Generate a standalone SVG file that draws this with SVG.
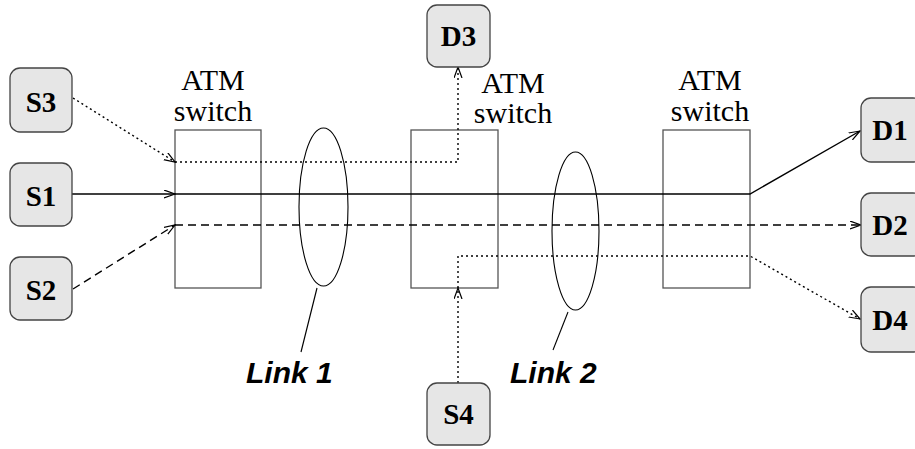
<svg xmlns="http://www.w3.org/2000/svg" width="915" height="449" viewBox="0 0 915 449">
<style>
.node rect{fill:#e6e6e6;stroke:#444;stroke-width:1.3}
.node text{font-family:"Liberation Serif",serif;font-weight:bold;font-size:29px;fill:#000;text-anchor:middle}
.sw rect{fill:none;stroke:#555;stroke-width:1.3}
.sw text{font-family:"Liberation Serif",serif;font-size:30px;fill:#000;text-anchor:middle}
.c{fill:none;stroke:#000;stroke-width:1.4}
.dot{stroke-dasharray:2 3}
.dash{stroke-dasharray:8 5}
.link{fill:none;stroke:#000;stroke-width:1.1}
.lt{font-family:"Liberation Sans",sans-serif;font-weight:bold;font-style:italic;font-size:30px;fill:#000}
</style>
<defs>
<marker id="ah" markerWidth="12" markerHeight="10" refX="11" refY="4.5" orient="auto" markerUnits="userSpaceOnUse">
<path d="M0,0.5 L11,4.5 L0,8.5" fill="none" stroke="#000" stroke-width="1.2" stroke-dasharray="none"/>
</marker>
</defs>
<g id="switch1" class="sw"><rect x="175" y="130" width="86" height="158"/><text x="213" y="90">ATM</text><text x="213" y="121">switch</text></g>
<g id="switch2" class="sw"><rect x="411" y="130" width="87" height="158"/><text x="513" y="93">ATM</text><text x="513" y="123">switch</text></g>
<g id="switch3" class="sw"><rect x="663" y="130" width="87" height="158"/><text x="710" y="90">ATM</text><text x="710" y="121">switch</text></g>
<g id="connectors">
<line class="c dot" x1="73" y1="98" x2="175" y2="162" marker-end="url(#ah)"/>
<path class="c dot" d="M175,162 H458 V67" marker-end="url(#ah)"/>
<line class="c" x1="72" y1="194" x2="175" y2="194" marker-end="url(#ah)"/>
<path class="c" d="M175,194 H750 L860,131" marker-end="url(#ah)"/>
<line class="c dash" x1="73" y1="289" x2="175" y2="225" marker-end="url(#ah)"/>
<line class="c dash" x1="175" y1="225" x2="861" y2="225" marker-end="url(#ah)"/>
<line class="c dot" x1="458" y1="383" x2="458" y2="288" marker-end="url(#ah)"/>
<path class="c dot" d="M458,288 V256 H750 L860,319" marker-end="url(#ah)"/>
</g>
<g id="link1">
<ellipse class="link" cx="323.5" cy="207" rx="24.5" ry="79"/>
<line class="link" x1="317" y1="288" x2="301" y2="352"/>
<text class="lt" x="246" y="383">Link 1</text>
</g>
<g id="link2">
<ellipse class="link" cx="575.5" cy="231" rx="23.5" ry="79"/>
<line class="link" x1="568" y1="312" x2="553" y2="350"/>
<text class="lt" x="510" y="383">Link 2</text>
</g>
<g id="S3" class="node"><rect x="10" y="68" width="62" height="64" rx="10"/><text x="41" y="112">S3</text></g>
<g id="S1" class="node"><rect x="10" y="163" width="62" height="63" rx="10"/><text x="41" y="206">S1</text></g>
<g id="S2" class="node"><rect x="10" y="257" width="62" height="63" rx="10"/><text x="41" y="300">S2</text></g>
<g id="D3" class="node"><rect x="427" y="5" width="63" height="62" rx="10"/><text x="458.5" y="46">D3</text></g>
<g id="S4" class="node"><rect x="427" y="383" width="63" height="62" rx="10"/><text x="458.5" y="424">S4</text></g>
<g id="D1" class="node"><rect x="861" y="98" width="62" height="64" rx="10"/><text x="890" y="140">D1</text></g>
<g id="D2" class="node"><rect x="861" y="193" width="62" height="63" rx="10"/><text x="890" y="235">D2</text></g>
<g id="D4" class="node"><rect x="861" y="287" width="62" height="65" rx="10"/><text x="890" y="330">D4</text></g>
</svg>
